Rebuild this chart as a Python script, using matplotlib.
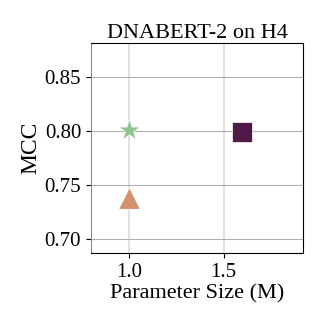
import matplotlib
matplotlib.use('Agg')
import matplotlib.pyplot as plt

# model results: parameter size (M) vs MCC
params = [1.0, 1.0, 1.6]
mcc = [0.801, 0.7375, 0.799]
markers = ['*', '^', 's']
colors = ['#8cc68c', '#d4916d', '#4f1a48']
sizes = [260, 240, 210]

plt.rcParams['font.family'] = ['Liberation Serif', 'DejaVu Serif']

fig, ax = plt.subplots(figsize=(3.27, 3.27), dpi=100)

for x, y, m, c, s in zip(params, mcc, markers, colors, sizes):
    ax.scatter(x, y, marker=m, color=c, s=s, edgecolors='white', linewidths=0.5, zorder=3)

ax.set_xlim(0.8, 1.92)
ax.set_ylim(0.687, 0.881)
ax.set_xticks([1.0, 1.5])
ax.set_yticks([0.70, 0.75, 0.80, 0.85])
ax.yaxis.grid(True, color='#b0b0b0', linewidth=0.8)
ax.xaxis.grid(True, color='#dcdcdc', linewidth=1.2)
ax.set_axisbelow(True)
ax.spines['left'].set_color('#888888')

ax.tick_params(labelsize=15)
ax.set_title('DNABERT-2 on H4', fontsize=16, pad=4)
ax.set_xlabel('Parameter Size (M)', fontsize=16, labelpad=2)
ax.set_ylabel('MCC', fontsize=17, labelpad=2)

fig.subplots_adjust(left=0.278, right=0.927, top=0.868, bottom=0.226)
fig.savefig('out.png', dpi=100)
